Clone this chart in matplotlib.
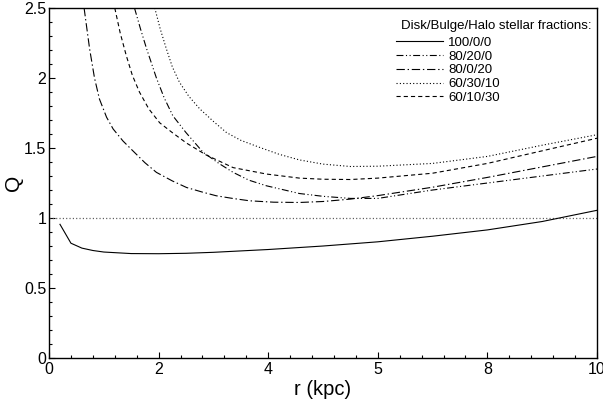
import matplotlib
matplotlib.use("Agg")
import matplotlib.pyplot as plt
from matplotlib.ticker import MultipleLocator, FixedLocator, FixedFormatter
from matplotlib.offsetbox import HPacker, DrawingArea

plt.rcParams['font.family'] = ['Liberation Sans', 'DejaVu Sans']
plt.rcParams['lines.scale_dashes'] = False

# ---- data ----
r_100_0_0 = [0.2, 0.4, 0.6, 0.8, 1.0, 1.5, 2.0, 2.5, 3.0, 4.0, 5.0, 6.0, 7.0, 8.0, 9.0, 10.0]
q_100_0_0 = [0.955, 0.82, 0.785, 0.768, 0.757, 0.746, 0.745, 0.748, 0.755, 0.775, 0.80, 0.83, 0.87, 0.915, 0.975, 1.055]

r_80_20_0 = [1.56, 1.67, 1.78, 1.96, 2.1, 2.26, 2.5, 2.81, 3.1, 3.36, 3.65, 3.97, 4.57, 5.0, 5.5, 6.0, 7.0, 8.0, 9.0, 10.0]
q_80_20_0 = [2.5, 2.35, 2.21, 2.0, 1.86, 1.73, 1.61, 1.47, 1.39, 1.326, 1.27, 1.23, 1.175, 1.155, 1.14, 1.14, 1.20, 1.25, 1.30, 1.35]

r_80_0_20 = [0.64, 0.74, 0.83, 0.92, 1.05, 1.17, 1.35, 1.53, 1.75, 1.96, 2.25, 2.51, 2.8, 3.05, 3.35, 3.66, 4.1, 4.57, 5.0, 5.5, 6.0, 7.0, 8.0, 9.0, 10.0]
q_80_0_20 = [2.5, 2.21, 2.0, 1.85, 1.72, 1.636, 1.55, 1.48, 1.395, 1.326, 1.265, 1.218, 1.185, 1.159, 1.14, 1.123, 1.113, 1.111, 1.118, 1.135, 1.16, 1.22, 1.29, 1.365, 1.44]

r_60_30_10 = [1.93, 2.03, 2.14, 2.25, 2.38, 2.55, 2.75, 3.0, 3.24, 3.5, 3.84, 4.2, 4.57, 5.0, 5.5, 6.0, 7.0, 8.0, 9.0, 10.0]
q_60_30_10 = [2.5, 2.35, 2.21, 2.08, 1.97, 1.87, 1.78, 1.69, 1.61, 1.555, 1.505, 1.455, 1.415, 1.385, 1.368, 1.37, 1.39, 1.44, 1.52, 1.595]

r_60_10_30 = [1.2, 1.3, 1.41, 1.52, 1.65, 1.82, 2.02, 2.25, 2.51, 2.87, 3.36, 3.97, 4.57, 5.0, 5.5, 6.0, 7.0, 8.0, 9.0, 10.0]
q_60_10_30 = [2.5, 2.32, 2.16, 2.02, 1.90, 1.78, 1.68, 1.61, 1.535, 1.45, 1.36, 1.314, 1.285, 1.277, 1.275, 1.285, 1.32, 1.39, 1.48, 1.57]

labels = ['100/0/0', '80/20/0', '80/0/20', '60/30/10', '60/10/30']
legend_title = 'Disk/Bulge/Halo stellar fractions:'
x_ticks = [0, 2, 4, 6, 8, 10]
x_tick_labels = ['0', '2', '4', '5', '8', '10']
y_ticks = [0, 0.5, 1, 1.5, 2, 2.5]
y_tick_labels = ['0', '0.5', '1', '1.5', '2', '2.5']
q_ref = 1.0

# ---- figure ----
fig = plt.figure(figsize=(6.03, 4.01), dpi=100)
ax = fig.add_axes([0.0813, 0.1072, 0.9087, 0.8728])

lw = 0.8
ax.axhline(q_ref, color='#555555', lw=0.9, linestyle=(0, (0.8, 1.6)))
ax.plot(r_100_0_0, q_100_0_0, color='black', lw=lw, linestyle='-', label=labels[0])
ax.plot(r_80_20_0, q_80_20_0, color='black', lw=lw, linestyle=(0, (5, 1.8, 0.8, 1.8, 0.8, 1.8)), label=labels[1])
ax.plot(r_80_0_20, q_80_0_20, color='black', lw=lw, linestyle=(0, (6, 2, 1, 2)), label=labels[2])
ax.plot(r_60_30_10, q_60_30_10, color='black', lw=lw, linestyle=(0, (0.8, 1.6)), label=labels[3])
ax.plot(r_60_10_30, q_60_10_30, color='black', lw=lw, linestyle=(0, (3, 2.2)), label=labels[4])

ax.set_xlim(0, 10)
ax.set_ylim(0, 2.5)
ax.xaxis.set_major_locator(FixedLocator(x_ticks))
ax.xaxis.set_major_formatter(FixedFormatter(x_tick_labels))
ax.xaxis.set_minor_locator(MultipleLocator(0.4))
ax.yaxis.set_major_locator(FixedLocator(y_ticks))
ax.yaxis.set_major_formatter(FixedFormatter(y_tick_labels))
ax.yaxis.set_minor_locator(MultipleLocator(0.1))
ax.tick_params(which='both', direction='in', top=False, right=False, labelsize=11.5)
ax.tick_params(axis='x', pad=3)
ax.tick_params(axis='y', pad=2)
ax.tick_params(which='major', length=4, width=0.8)
ax.tick_params(which='minor', length=2, width=0.8)
for s in ax.spines.values():
    s.set_linewidth(1.0)

ax.set_xlabel('r (kpc)', fontsize=14.5, labelpad=2)
ax.set_ylabel('Q', fontsize=15, labelpad=1)

leg = ax.legend(title=legend_title, loc='upper right', bbox_to_anchor=(1.0, 0.982),
                frameon=False, fontsize=9.5, title_fontsize=9.5, handlelength=3.6,
                handletextpad=0.4, labelspacing=0.11, borderaxespad=0.0,
                alignment='left')
try:
    box = leg._legend_box
    box.sep = 3.8
    kids = box._children
    kids[0] = HPacker(pad=0, sep=0, children=[DrawingArea(4, 1), kids[0]])
except Exception:
    pass

fig.savefig('out.png', dpi=100)
